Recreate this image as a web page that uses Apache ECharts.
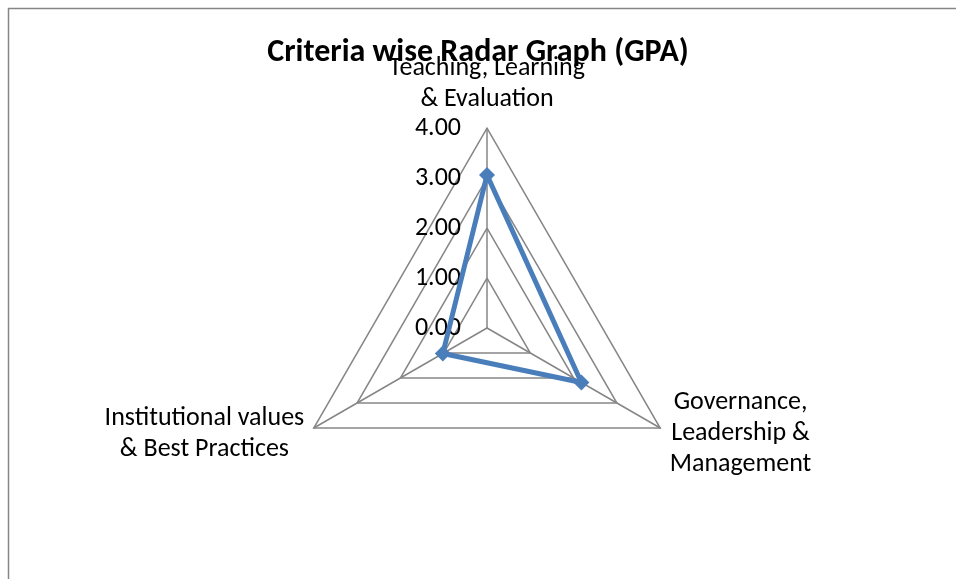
<!DOCTYPE html>
<html>
<head>
<meta charset="utf-8">
<script src="https://cdn.jsdelivr.net/npm/echarts@6/dist/echarts.min.js"></script>
<style>
  html, body { margin: 0; padding: 0; background: #fff; }
  #chart { width: 956px; height: 579px; }
</style>
</head>
<body>
<div id="chart"></div>
<script>
// listed in drawing order (radar runs counter-clockwise from the top)
var criteria = ['Teaching, Learning\n& Evaluation', 'Institutional values\n& Best Practices', 'Governance,\nLeadership &\nManagement'];
var gpa = [3.06, 1.02, 2.18];
var maxValue = 4;

var font = "Carlito, 'Liberation Sans Narrow', 'Open Sans', sans-serif";
var myChart = echarts.init(document.getElementById('chart'));

var indicators = criteria.map(function (c, i) {
    var ind = { name: c, min: 0, max: maxValue };
    // only the first axis carries the scale labels
    ind.axisLabel = { show: i === 0 };
    return ind;
});

myChart.setOption({
    animation: false,
    title: {
        text: 'Criteria wise Radar Graph (GPA)',
        left: 'center',
        top: 32,
        textStyle: { fontFamily: font, fontSize: 32, fontWeight: 'bold', color: '#000' }
    },
    graphic: [{
        type: 'rect',
        shape: { x: 8.5, y: 8.5, width: 2000, height: 2000 },
        style: { fill: 'none', stroke: '#868686', lineWidth: 1.5 },
        silent: true
    }],
    radar: {
        center: [487, 328],
        radius: 200,
        shape: 'polygon',
        startAngle: 90,
        splitNumber: 4,
        indicator: indicators,
        nameGap: 11,
        axisName: {
            color: '#000', fontFamily: font, fontSize: 26, lineHeight: 31,
            // centre every line of the name inside its block, like the original
            formatter: function (name) {
                return name.split('\n').map(function (l) { return '{c|' + l + '}'; }).join('\n');
            },
            rich: {
                c: { align: 'center', color: '#000', fontFamily: font, fontSize: 26, lineHeight: 31 }
            }
        },
        axisLine: { lineStyle: { color: '#868686', width: 1.5 } },
        splitLine: { lineStyle: { color: '#868686', width: 1.5 } },
        splitArea: { show: false },
        axisTick: { show: false },
        axisLabel: {
            show: false,
            color: '#000',
            fontFamily: font,
            fontSize: 26,
            margin: 26,
            padding: [6, 0, 0, 0],
            formatter: function (v) { return v.toFixed(2); }
        }
    },
    series: [{
        type: 'radar',
        data: [{ value: gpa, name: 'GPA' }],
        symbol: 'diamond',
        symbolSize: 16,
        itemStyle: { color: '#4a7ebb' },
        lineStyle: { color: '#4a7ebb', width: 5 },
        areaStyle: null
    }]
});
</script>
</body>
</html>
